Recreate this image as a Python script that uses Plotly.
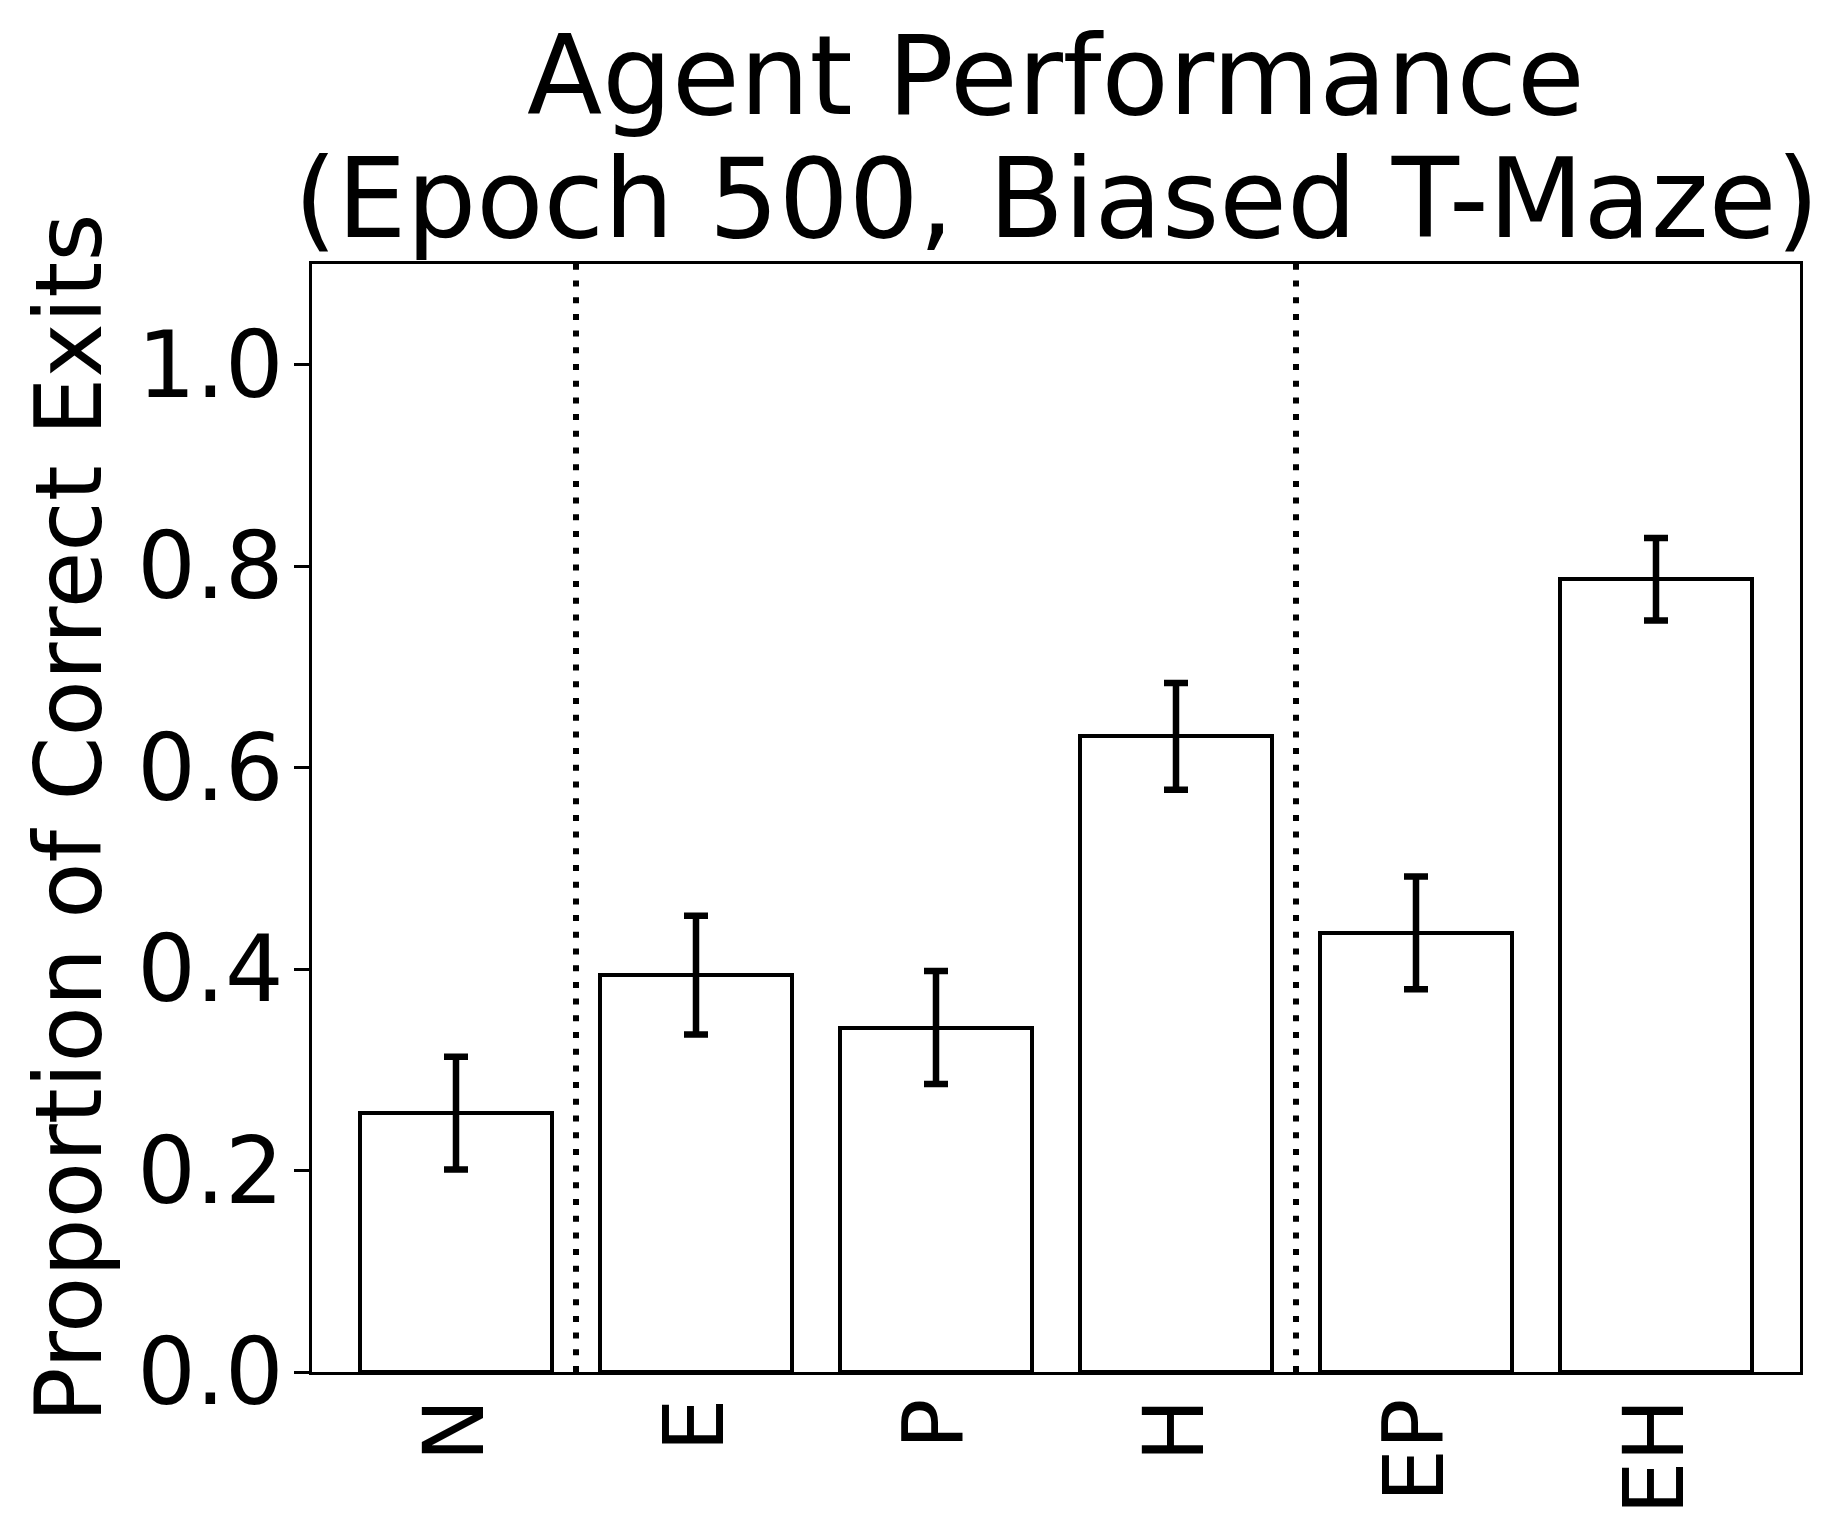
import plotly.graph_objects as go

# valeurs
conditions = ["N", "E", "P", "H", "EP", "EH"]
proportion = [0.257, 0.394, 0.342, 0.631, 0.436, 0.787]
erreur = [0.056, 0.059, 0.056, 0.053, 0.056, 0.041]
separateurs = [0.5, 3.5]
titre_lignes = ["Agent Performance", "(Epoch 500, Biased T-Maze)"]
label_y = "Proportion of Correct Exits"

FONT = "DejaVu Sans"

fig = go.Figure()

fig.add_trace(go.Bar(
    x=list(range(len(conditions))),
    y=proportion,
    width=0.8,
    marker=dict(color="white", line=dict(color="black", width=4)),
    error_y=dict(type="data", array=erreur, visible=True,
                 color="black", thickness=6.5, width=12),
    showlegend=False,
))

# lignes pointillées de séparation
for xs in separateurs:
    fig.add_shape(type="line", xref="x", yref="paper",
                  x0=xs, x1=xs, y0=0, y1=1,
                  line=dict(color="black", width=6, dash="6px,10.7px"))

# titre sur deux lignes (interligne serré comme l'original)
fig.add_annotation(text=titre_lignes[0], xref="paper", yref="paper",
                   x=0.5, y=1.1697, xanchor="center", yanchor="middle",
                   showarrow=False, font=dict(family=FONT, size=110, color="black"))
fig.add_annotation(text=titre_lignes[1], xref="paper", yref="paper",
                   x=0.5, y=1.0587, xanchor="center", yanchor="middle",
                   showarrow=False, font=dict(family=FONT, size=110, color="black"))

fig.add_annotation(text=label_y, xref="paper", yref="paper",
                   x=-0.1635, y=0.5, xanchor="center", yanchor="middle",
                   textangle=-90, showarrow=False,
                   font=dict(family=FONT, size=92, color="black"))

# la page ajoute 8 px de marge : on décale tout d'autant
fig.update_layout(
    width=1840, height=1529, autosize=False,
    margin=dict(l=304, r=48, t=256, b=165),
    paper_bgcolor="white", plot_bgcolor="white",
    font=dict(family=FONT, color="black"),
    bargap=0,
)

fig.update_xaxes(
    range=[-0.6, 5.6],
    tickmode="array", tickvals=list(range(len(conditions))), ticktext=conditions,
    tickangle=-90, ticks="", tickfont=dict(size=84), ticklabelstandoff=-10,
    showline=True, linecolor="black", linewidth=3, mirror=True,
    showgrid=False, zeroline=False,
)
fig.update_yaxes(
    range=[0, 1.1], tick0=0, dtick=0.2, tickformat=".1f",
    ticks="outside", ticklen=15, tickwidth=3, tickcolor="black",
    tickfont=dict(size=92), ticklabelstandoff=-8,
    showline=True, linecolor="black", linewidth=3, mirror=True,
    showgrid=False, zeroline=False,
)

fig.write_html("out.html")
